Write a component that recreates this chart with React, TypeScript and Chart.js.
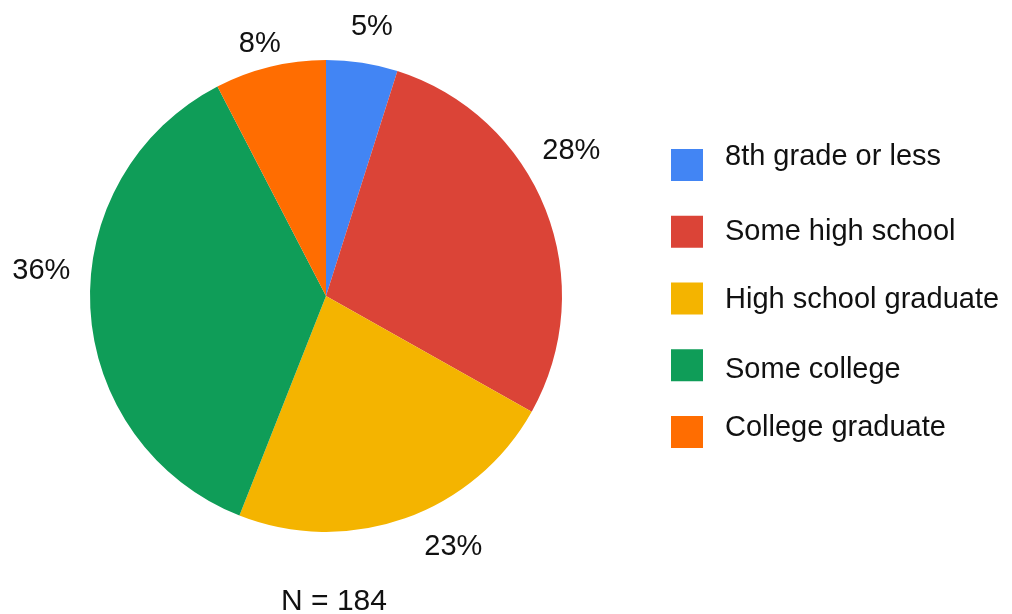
import React, { useEffect, useRef } from "react";
import { Chart, registerables } from "chart.js";

Chart.register(...registerables);

const categories = [
  "8th grade or less",
  "Some high school",
  "High school graduate",
  "Some college",
  "College graduate",
];
const counts = [9, 52, 42, 67, 14];
const colors = ["#4285F4", "#DB4437", "#F4B400", "#0F9D58", "#FF6D01"];
const footerText = "N = 184";

// label placement tweaks (degrees from slice mid-angle, px beyond the rim)
const labelAngleShift = [0.8, -9.4, -7.6, 8.4, -0.9];
const labelGap = [39, 50, 43, 50, 27];
const legendTextOffset = [-10, -2, -1, 2, -6];

const FONT = "'Liberation Sans', Arial, Helvetica, sans-serif";

const overlayPlugin = {
  id: "overlay",
  afterDatasetsDraw(chart: any) {
    const ctx = chart.ctx as CanvasRenderingContext2D;
    const meta = chart.getDatasetMeta(0);
    const data = chart.data.datasets[0].data as number[];
    const total = data.reduce((a, b) => a + b, 0);
    ctx.save();
    ctx.fillStyle = "#111";
    ctx.font = `29px ${FONT}`;
    ctx.textAlign = "center";
    ctx.textBaseline = "alphabetic";
    meta.data.forEach((arc: any, i: number) => {
      const p = arc.getProps(["x", "y", "startAngle", "endAngle", "outerRadius"], true);
      const mid = (p.startAngle + p.endAngle) / 2 + (labelAngleShift[i] * Math.PI) / 180;
      const d = p.outerRadius + labelGap[i];
      const tx = p.x + Math.cos(mid) * d;
      const ty = p.y + Math.sin(mid) * d;
      const txt = Math.round((data[i] / total) * 100) + "%";
      ctx.fillText(txt, tx, ty + 10.4);
    });

    // legend
    const boxX = 671;
    const boxSize = 32;
    const top0 = 149;
    const step = 66.75;
    categories.forEach((c, i) => {
      const top = top0 + i * step;
      ctx.fillStyle = colors[i];
      ctx.fillRect(boxX, top, boxSize, boxSize);
      ctx.fillStyle = "#111";
      ctx.textAlign = "left";
      const cy = top + boxSize / 2 + legendTextOffset[i];
      ctx.fillText(c, 725, cy + 10.4);
    });

    // footer
    ctx.font = `30px ${FONT}`;
    ctx.textAlign = "center";
    ctx.fillText(footerText, 334, 599 + 10.7);
    ctx.restore();
  },
};

export default function App() {
  const ref = useRef<HTMLCanvasElement | null>(null);
  useEffect(() => {
    if (!ref.current) return;
    const chart = new Chart(ref.current, {
      type: "pie",
      data: {
        labels: categories,
        datasets: [
          {
            data: counts,
            backgroundColor: colors,
            borderWidth: 0,
          },
        ],
      },
      options: {
        animation: false,
        responsive: false,
        layout: { padding: { left: 90, top: 60, right: 450, bottom: 82 } },
        plugins: {
          legend: { display: false },
          tooltip: { enabled: false },
          title: { display: false },
        },
      },
      plugins: [overlayPlugin],
    });
    return () => chart.destroy();
  }, []);
  return (
    <div style={{ position: "fixed", left: 0, top: 0, width: 1012, height: 614, background: "#fff" }}>
      <canvas ref={ref} width={1012} height={614} style={{ width: 1012, height: 614, display: "block" }} />
    </div>
  );
}
